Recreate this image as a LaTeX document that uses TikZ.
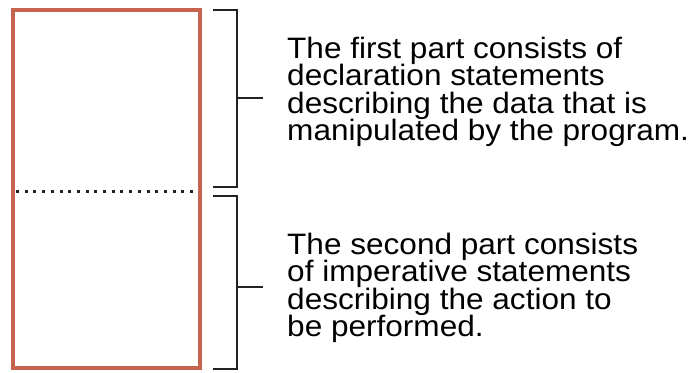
\documentclass[tikz,border=0pt]{standalone}
\usepackage{fontspec}
\setmainfont{Liberation Sans}[FakeStretch=1.07]
\definecolor{framecol}{RGB}{198,100,78}
\definecolor{inkcol}{RGB}{34,34,34}
\begin{document}
\begin{tikzpicture}[x=1pt,y=-1pt,
  frame/.style={draw=framecol,line width=4pt},
  divider/.style={draw=inkcol,line width=3pt,dash pattern=on 3pt off 5.7pt},
  brace/.style={draw=inkcol,line width=2pt},
  note/.style={anchor=base west,inner sep=0pt,align=left,text=black,
    font=\fontsize{29.5}{27.5}\selectfont}]
\useasboundingbox (0,0) rectangle (700,372);
% program block and the split between its two parts
\draw[frame] (13,10) rectangle (200,368);
\draw[divider] (16,191) -- (197,191);
% brackets spanning each part
\coordinate (a1) at (213,10);
\coordinate (a2) at (237,10);
\coordinate (a3) at (237,187);
\coordinate (a4) at (213,187);
\coordinate (am) at (237,98);
\coordinate (at) at (263,98);
\draw[brace] (a1) -- (a2) -- (a3) -- (a4);
\draw[brace] (am) -- (at);
\coordinate (b1) at (213,196);
\coordinate (b2) at (237,196);
\coordinate (b3) at (237,369);
\coordinate (b4) at (213,369);
\coordinate (bm) at (237,287);
\coordinate (bt) at (263,287);
\draw[brace] (b1) -- (b2) -- (b3) -- (b4);
\draw[brace] (bm) -- (bt);
% descriptions (anchored at the baseline of the last line)
\node[note] (upper) at (287,140.8) {The first part consists of\\declaration statements\\describing the data that is\\manipulated by the program.};
\node[note] (lower) at (287,336.8) {The second part consists\\of imperative statements\\describing the action to\\be performed.};
\end{tikzpicture}
\end{document}
